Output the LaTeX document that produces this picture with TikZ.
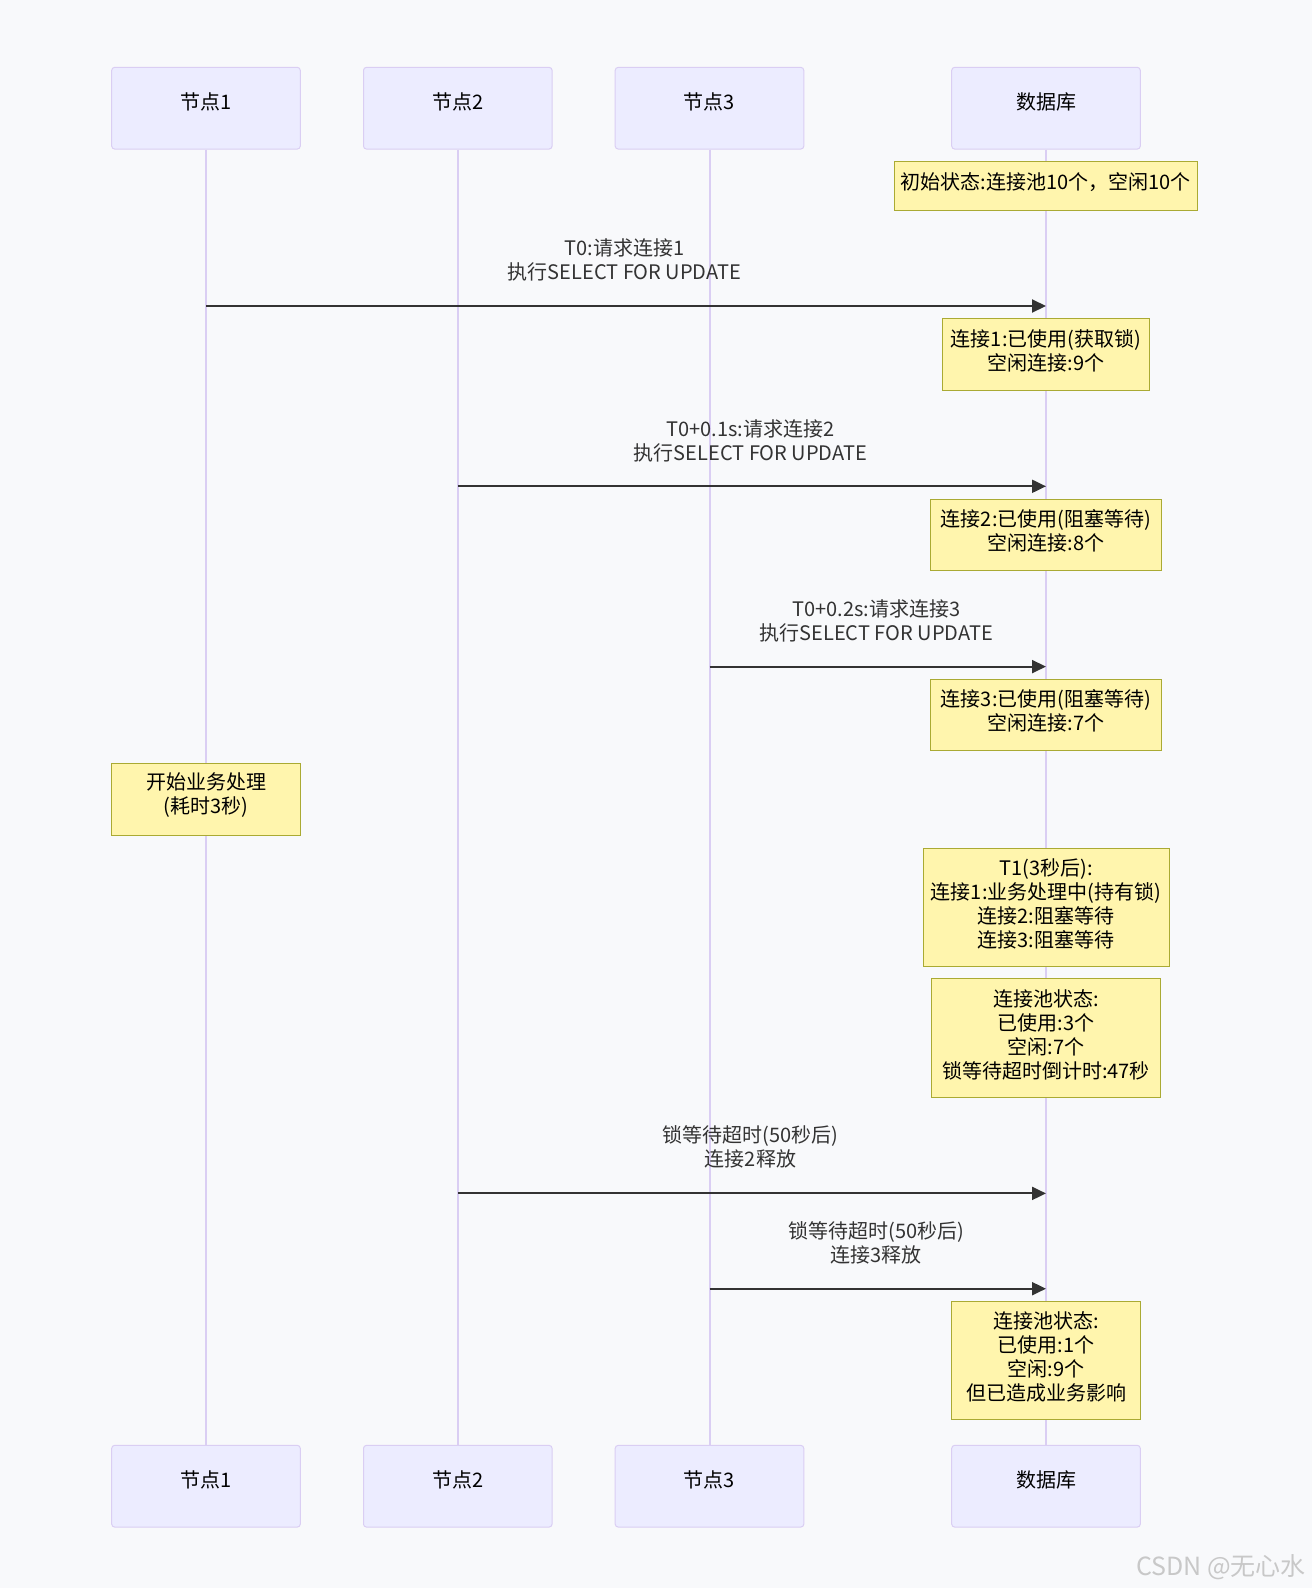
\documentclass[tikz,border=0pt]{standalone}
\usepackage{fontspec}
\setmainfont{Noto Sans CJK SC}
\usetikzlibrary{arrows.meta}

\definecolor{bgc}{HTML}{F8F9FB}
\definecolor{actorfill}{HTML}{ECECFF}
\definecolor{actorline}{HTML}{DACEF3}
\definecolor{notefill}{HTML}{FFF5AD}
\definecolor{noteline}{HTML}{AAAA33}
\definecolor{msgc}{HTML}{333333}
\definecolor{markc}{HTML}{C8C8C8}

\tikzset{
  actorbox/.style={draw=actorline, fill=actorfill, line width=1pt, rounded corners=3pt,
    minimum width=188.6pt, minimum height=81.7pt, inner sep=0pt},
  actortext/.style={text=black, inner sep=0pt},
  lifeline/.style={draw=actorline, line width=2pt},
  notebox/.style={draw=noteline, fill=notefill, line width=1pt, inner sep=0pt},
  notetext/.style={text=black, align=center, inner sep=0pt},
  msg/.style={draw=msgc, line width=2pt, -{Triangle[length=14pt,width=13pt]}},
  msgtext/.style={text=msgc, align=center, inner sep=0pt},
}

\begin{document}
\begin{tikzpicture}[x=1pt, y=-1pt, font=\fontsize{20}{24}\selectfont]
  % canvas
  \fill[bgc] (0,0) rectangle (1312,1588);
  \useasboundingbox (0,0) rectangle (1312,1588);

  % participants, top row
  \node[actorbox] (a1) at (206,108.2) {};
  \node[actorbox] (a2) at (457.8,108.2) {};
  \node[actorbox] (a3) at (709.5,108.2) {};
  \node[actorbox] (a4) at (1046,108.2) {};
  % participants, bottom row
  \node[actorbox] (b1) at (206,1486.2) {};
  \node[actorbox] (b2) at (457.8,1486.2) {};
  \node[actorbox] (b3) at (709.5,1486.2) {};
  \node[actorbox] (b4) at (1046,1486.2) {};

  % lifelines
  \draw[lifeline] (a1.south) -- (b1.north);
  \draw[lifeline] (a2.south) -- (b2.north);
  \draw[lifeline] (a3.south) -- (b3.north);
  \draw[lifeline] (a4.south) -- (b4.north);

  % participant names
  \node[actortext] (a1t) at (206,101.5) {节点1};
  \node[actortext] (a2t) at (457.8,101.5) {节点2};
  \node[actortext] (a3t) at (709.5,101.5) {节点3};
  \node[actortext] (a4t) at (1046,101.5) {数据库};
  \node[actortext] (b1t) at (206,1479.5) {节点1};
  \node[actortext] (b2t) at (457.8,1479.5) {节点2};
  \node[actortext] (b3t) at (709.5,1479.5) {节点3};
  \node[actortext] (b4t) at (1046,1479.5) {数据库};

  % notes
  \node[notebox, minimum width=303pt, minimum height=49pt] (n0) at (1045.8,186.2) {};
  \node[notetext] (n0t) at (1045.8,182.6) {初始状态:连接池10个，空闲10个};

  \node[notebox, minimum width=206.6pt, minimum height=71.7pt] (n1) at (1046,354.8) {};
  \node[notetext] (n1t) at (1046,350.6) {连接1:已使用(获取锁)\\空闲连接:9个};

  \node[notebox, minimum width=230.3pt, minimum height=71.4pt] (n2) at (1046,535) {};
  \node[notetext] (n2t) at (1046,531) {连接2:已使用(阻塞等待)\\空闲连接:8个};

  \node[notebox, minimum width=230.3pt, minimum height=70.7pt] (n3) at (1046,714.7) {};
  \node[notetext] (n3t) at (1046,710.7) {连接3:已使用(阻塞等待)\\空闲连接:7个};

  \node[notebox, minimum width=188.6pt, minimum height=71.7pt] (n4) at (206,799.2) {};
  \node[notetext] (n4t) at (206,795.2) {开始业务处理\\(耗时3秒)};

  \node[notebox, minimum width=246pt, minimum height=118.3pt] (n5) at (1046,907.2) {};
  \node[notetext] (n5t) at (1046,903.6) {T1(3秒后):\\连接1:业务处理中(持有锁)\\连接2:阻塞等待\\连接3:阻塞等待};

  \node[notebox, minimum width=228.3pt, minimum height=118.6pt] (n6) at (1045.9,1038) {};
  \node[notetext] (n6t) at (1045.9,1034.4) {连接池状态:\\已使用:3个\\空闲:7个\\锁等待超时倒计时:47秒};

  \node[notebox, minimum width=189pt, minimum height=118.4pt] (n7) at (1046.2,1360.5) {};
  \node[notetext] (n7t) at (1046.2,1356.5) {连接池状态:\\已使用:1个\\空闲:9个\\但已造成业务影响};

  % message rows
  \coordinate (y1) at (0,306);
  \coordinate (y2) at (0,486.3);
  \coordinate (y3) at (0,666.6);
  \coordinate (y4) at (0,1193.4);
  \coordinate (y5) at (0,1288.7);

  % messages
  \draw[msg] (a1 |- y1) -- (a4 |- y1);
  \node[msgtext] (m1) at (624.5,260.3) {T0:请求连接1\\执行SELECT FOR UPDATE};

  \draw[msg] (a2 |- y2) -- (a4 |- y2);
  \node[msgtext] (m2) at (750.5,440.5) {T0+0.1s:请求连接2\\执行SELECT FOR UPDATE};

  \draw[msg] (a3 |- y3) -- (a4 |- y3);
  \node[msgtext] (m3) at (876.3,620.8) {T0+0.2s:请求连接3\\执行SELECT FOR UPDATE};

  \draw[msg] (a2 |- y4) -- (a4 |- y4);
  \node[msgtext] (m4) at (750.5,1147.2) {锁等待超时(50秒后)\\连接2释放};

  \draw[msg] (a3 |- y5) -- (a4 |- y5);
  \node[msgtext] (m5) at (876.3,1242.9) {锁等待超时(50秒后)\\连接3释放};

  % signature
  \node[text=markc, inner sep=0pt, font=\fontsize{25}{28}\selectfont] (sig) at (1221,1567) {CSDN @无心水};
\end{tikzpicture}
\end{document}
